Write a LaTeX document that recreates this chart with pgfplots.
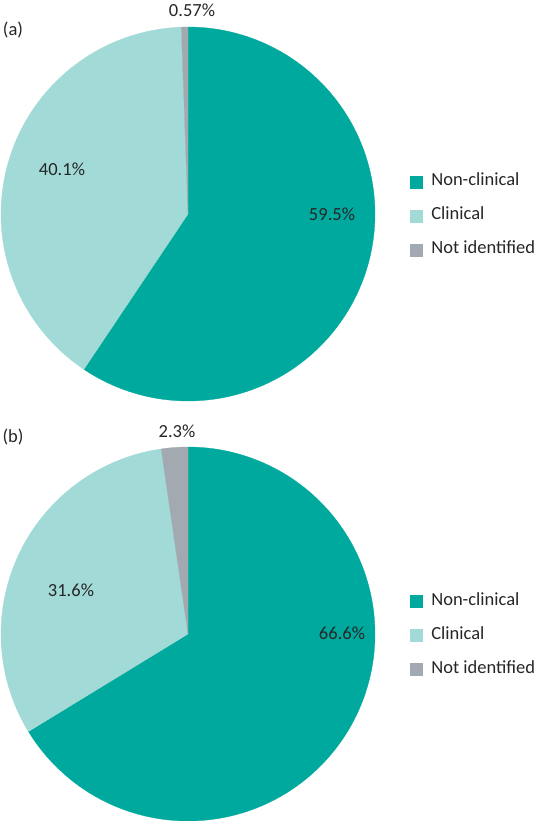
\documentclass[border=0pt]{standalone}
\usepackage{pgfplots}
\pgfplotsset{compat=1.18}
\usepackage{fontspec}
\setmainfont{Carlito}
\definecolor{nonclin}{HTML}{00A99D}
\definecolor{clin}{HTML}{A1DAD7}
\definecolor{notid}{HTML}{A2A9B1}
\definecolor{txt}{HTML}{262626}

% data (percent of respondents)
\def\aNC{59.5}\def\aCL{40.1}\def\aNI{0.57}
\def\bNC{66.6}\def\bCL{31.6}\def\bNI{2.3}

% pie slice: cx, cy, r, from, to, total, colour
\newcommand{\slice}[7]{%
  \addplot[fill=#7, draw=#7, line width=0.3pt, domain=#4:#5, samples=150, variable=\t]
    ({#1+#3*sin(360*\t/#6)}, {#2-#3*cos(360*\t/#6)}) -- (axis cs:#1,#2) -- cycle;
}

\pgfplotsset{
  pieaxis/.style={
    xmin=0, xmax=534, ymin=0, ymax=410.5, y dir=reverse,
    width=534pt, height=410.5pt, scale only axis, hide axis, clip=false,
    anchor=south west,
    legend cell align=left,
    legend style={draw=none, fill=none, inner sep=0pt, outer sep=0pt,
      font=\fontsize{18.5}{21}\selectfont, text=txt,
      row sep=18pt,
      nodes={inner sep=0pt, text height=12pt, text depth=4pt},
      /tikz/every odd column/.append style={column sep=9pt}},
    legend image code/.code={\fill[##1] (0pt,-6pt) rectangle (12pt,6pt);},
  },
}
\tikzset{lbl/.style={font=\fontsize{18.5}{21}\selectfont, text=txt, inner sep=0pt}}

\begin{document}
\begin{tikzpicture}
% (a)
\begin{axis}[pieaxis, at={(0,410.5pt)},
  legend style={at={(axis cs:410,216)}, anchor=west}]
  \slice{188}{214}{187}{0}{\aNC}{100.17}{nonclin}
  \addlegendentry{Non-clinical}
  \slice{188}{214}{187}{\aNC}{\aNC+\aCL}{100.17}{clin}
  \addlegendentry{Clinical}
  \slice{188}{214}{187}{\aNC+\aCL}{100.17}{100.17}{notid}
  \addlegendentry{Not identified}
  \node[lbl] at (axis cs:332,214) {59.5\%};
  \node[lbl] at (axis cs:62,169) {40.1\%};
  \node[lbl] at (axis cs:192,10) {0.57\%};
  \node[lbl] at (axis cs:13,30) {(a)};
\end{axis}
% (b)
\begin{axis}[pieaxis, at={(0,0)},
  legend style={at={(axis cs:410,225)}, anchor=west}]
  \slice{188}{223.5}{187}{0}{\bNC}{100.5}{nonclin}
  \addlegendentry{Non-clinical}
  \slice{188}{223.5}{187}{\bNC}{\bNC+\bCL}{100.5}{clin}
  \addlegendentry{Clinical}
  \slice{188}{223.5}{187}{\bNC+\bCL}{100.5}{100.5}{notid}
  \addlegendentry{Not identified}
  \node[lbl] at (axis cs:342,222.5) {66.6\%};
  \node[lbl] at (axis cs:71,179.5) {31.6\%};
  \node[lbl] at (axis cs:177,20.5) {2.3\%};
  \node[lbl] at (axis cs:13,26.5) {(b)};
\end{axis}
\pgfresetboundingbox
\path (0,0) rectangle (534pt,821pt);
\end{tikzpicture}
\end{document}
